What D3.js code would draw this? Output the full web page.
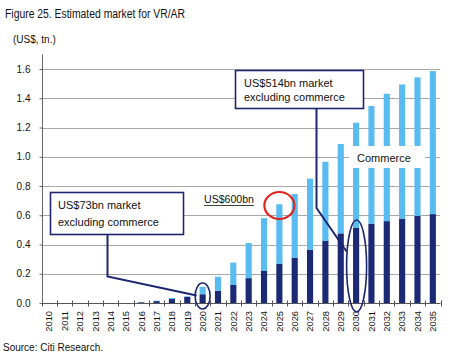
<!DOCTYPE html>
<html><head><meta charset="utf-8">
<script src="https://cdn.jsdelivr.net/npm/d3@7/dist/d3.min.js"></script>
<style>body{margin:0;background:#fff}svg{display:block;font-family:"Liberation Sans",Arial,sans-serif}</style>
</head><body><svg id="c" width="455" height="356"></svg>
<script>
const years = ["2010","2011","2012","2013","2014","2015","2016","2017","2018","2019","2020","2021","2022","2023","2024","2025","2026","2027","2028","2029","2030","2031","2032","2033","2034","2035"];
const exCommerce = [0,0,0,0,0,0,0.005,0.013,0.027,0.042,0.06,0.084,0.123,0.17,0.219,0.269,0.31,0.365,0.424,0.476,0.513,0.542,0.56,0.577,0.595,0.608];
const commerce = [0,0,0,0,0,0,0.001,0.003,0.007,0.004,0.05,0.096,0.153,0.24,0.361,0.406,0.435,0.485,0.542,0.611,0.72,0.805,0.871,0.918,0.948,0.978];
const yTicks = [0,0.2,0.4,0.6,0.8,1.0,1.2,1.4,1.6];
const seriesKeys = ["exCommerce","commerce"];
const seriesColors = ["#1c2a76","#58bcf1"];

const navy = "#1c2670";
const svg = d3.select("#c");
svg.append("rect").attr("width",455).attr("height",356).attr("fill","#fff");

const x = d3.scaleBand().domain(years).range([41.5,440.5]).paddingInner(0.6).paddingOuter(0.3);
const y = d3.scaleLinear().domain([0,1.7]).range([303,54.4]);

const rows = years.map((yr,i)=>({year:yr, exCommerce:exCommerce[i], commerce:commerce[i]}));
const stack = d3.stack().keys(seriesKeys)(rows);

// title
svg.append("text").attr("x",5).attr("y",18).attr("font-size",12.5).attr("textLength",180).attr("lengthAdjust","spacingAndGlyphs").attr("fill","#111").text("Figure 25. Estimated market for VR/AR");
svg.append("text").attr("x",13).attr("y",42.5).attr("font-size",10).attr("fill","#111").text("(US$, tn.)");

// gridlines
svg.append("g").selectAll("line").data(yTicks.filter(d=>d>0)).join("line")
  .attr("x1",42).attr("x2",440).attr("y1",d=>Math.round(y(d))+0.5).attr("y2",d=>Math.round(y(d))+0.5)
  .attr("stroke","#a8a8a8").attr("stroke-width",1);

// y axis
const yAx = svg.append("g").attr("transform","translate(42.5,0)")
  .call(d3.axisLeft(y).tickValues(yTicks).tickFormat(d3.format(".1f")).tickSize(3).tickPadding(9));
yAx.select(".domain").attr("stroke","#666").attr("d",`M0,${y(1.7)}V${y(0)}`);
yAx.selectAll(".tick line").attr("stroke","#666");
yAx.selectAll(".tick text").attr("font-size",10).attr("font-family","Liberation Sans, Arial, sans-serif").attr("fill","#111");

// bars
svg.append("g").selectAll("g").data(stack).join("g").attr("fill",(d,i)=>seriesColors[i])
  .selectAll("rect").data(d=>d).join("rect")
  .attr("x",d=>x(d.data.year)).attr("width",x.bandwidth())
  .attr("y",d=>y(d[1])).attr("height",d=>Math.max(0,y(d[0])-y(d[1])));

// x axis line + ticks at band boundaries
svg.append("line").attr("x1",42).attr("x2",440.5).attr("y1",303.5).attr("y2",303.5).attr("stroke","#555");
const bounds = years.map(yr=>x(yr)+x.bandwidth()/2-x.step()/2).concat([x(years[years.length-1])+x.bandwidth()/2+x.step()/2]);
svg.append("g").selectAll("line").data(bounds).join("line")
  .attr("x1",d=>Math.round(d)+0.5).attr("x2",d=>Math.round(d)+0.5).attr("y1",300.5).attr("y2",306.5).attr("stroke","#555");
svg.append("g").selectAll("text").data(years).join("text")
  .attr("transform",d=>`translate(${x(d)+x.bandwidth()/2+3.3},${311}) rotate(-90)`)
  .attr("text-anchor","end").attr("font-size",9.3).attr("fill","#111").text(d=>d);

// Commerce label
svg.append("rect").attr("x",349).attr("y",146).attr("width",76).attr("height",22).attr("fill","#fff");
svg.append("text").attr("x",357).attr("y",161.5).attr("font-size",11).attr("fill","#111").text("Commerce");

// US$600bn
svg.append("text").attr("x",204).attr("y",203).attr("font-size",11).attr("textLength",50).attr("lengthAdjust","spacingAndGlyphs").attr("fill","#111").text("US$600bn");
svg.append("line").attr("x1",204).attr("x2",254).attr("y1",205.5).attr("y2",205.5).attr("stroke","#111").attr("stroke-width",0.8);
svg.append("ellipse").attr("cx",x("2025")+x.bandwidth()/2).attr("cy",205.5).attr("rx",15).attr("ry",13.5)
  .attr("fill","none").attr("stroke","#e3231f").attr("stroke-width",2.2);

// connector 1
const c20 = x("2020")+x.bandwidth()/2;
svg.append("path").attr("d",`M107.5,234V276.5L${c20-6},295.5`).attr("fill","none").attr("stroke",navy).attr("stroke-width",2);
svg.append("ellipse").attr("cx",c20).attr("cy",296).attr("rx",7.5).attr("ry",13).attr("fill","none").attr("stroke",navy).attr("stroke-width",1.6);
svg.append("rect").attr("x",50.5).attr("y",192.5).attr("width",133).attr("height",42).attr("fill","#fff").attr("stroke",navy).attr("stroke-width",1.6);
svg.append("text").attr("x",58).attr("y",209).attr("font-size",11).attr("fill","#111").text("US$73bn market");
svg.append("text").attr("x",58).attr("y",225.5).attr("font-size",11).attr("fill","#111").text("excluding commerce");

// connector 2
const c30 = x("2030")+x.bandwidth()/2;
svg.append("path").attr("d",`M316.5,108V208L${c30-9.5},251.5`).attr("fill","none").attr("stroke",navy).attr("stroke-width",2);
svg.append("ellipse").attr("cx",c30+0.5).attr("cy",266).attr("rx",10).attr("ry",46).attr("fill","none").attr("stroke",navy).attr("stroke-width",1.6);
svg.append("rect").attr("x",235.5).attr("y",70.5).attr("width",128).attr("height",38).attr("fill","#fff").attr("stroke",navy).attr("stroke-width",1.6);
svg.append("text").attr("x",244).attr("y",86.5).attr("font-size",11).attr("fill","#111").text("US$514bn market");
svg.append("text").attr("x",244).attr("y",101).attr("font-size",11).attr("fill","#111").text("excluding commerce");

// source
svg.append("text").attr("x",3).attr("y",351).attr("font-size",10).attr("fill","#111").text("Source: Citi Research.");
</script></body></html>
